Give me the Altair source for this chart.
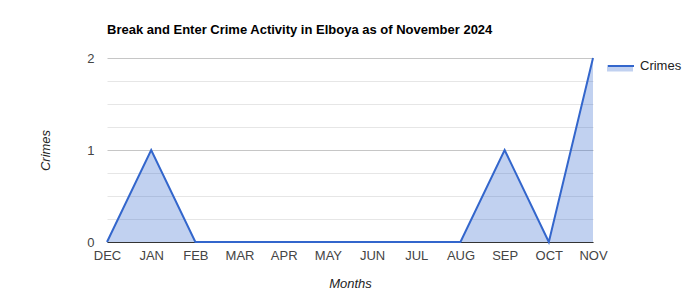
import altair as alt
import pandas as pd

months = ["DEC", "JAN", "FEB", "MAR", "APR", "MAY", "JUN", "JUL", "AUG", "SEP", "OCT", "NOV"]
crimes = [0, 1, 0, 0, 0, 0, 0, 0, 0, 1, 0, 2]
series_name = "Crimes"
y_ticks = [0, 0.25, 0.5, 0.75, 1, 1.25, 1.5, 1.75, 2]

df = pd.DataFrame({"Month": months, "Crimes": crimes})

FONT = "Liberation Sans"
BLUE = "#3366cc"

x_enc = alt.X(
    "Month:N",
    sort=months,
    scale=alt.Scale(type="point", padding=0),
    axis=alt.Axis(
        title="Months",
        titleFont=FONT, titleFontSize=13, titleFontStyle="italic", titleFontWeight="normal",
        titleColor="#222222", titleY=45, titleBaseline="alphabetic",
        labelFont=FONT, labelFontSize=13, labelColor="#444444", labelAngle=0,
        labelPadding=7, ticks=False, domain=True, domainColor="#333333", domainWidth=1,
        grid=False,
    ),
)
y_enc = alt.Y(
    "Crimes:Q",
    scale=alt.Scale(domain=[0, 2], nice=False),
    axis=alt.Axis(
        title="Crimes",
        values=y_ticks,
        tickCount=len(y_ticks),
        labelExpr="datum.value % 1 === 0 ? format(datum.value, 'd') : ''",
        titleFont=FONT, titleFontSize=13, titleFontStyle="italic", titleFontWeight="normal",
        titleColor="#222222", titleX=-62, titleY=92, titleAngle=-90, titleBaseline="middle",
        titleAlign="center",
        labelFont=FONT, labelFontSize=13, labelColor="#444444", labelPadding=13,
        labelOverlap=False,
        ticks=False, domain=False,
        grid=True,
        gridColor={"condition": {"test": "datum.value % 1 === 0", "value": "#c6c6c6"}, "value": "#e6e6e6"},
        gridWidth=1,
    ),
)

area = alt.Chart(df).mark_area(fillOpacity=0.3, line=False).encode(
    x=x_enc,
    y=y_enc,
    fill=alt.Fill(
        "s:N",
        scale=alt.Scale(domain=[series_name], range=[BLUE]),
        legend=alt.Legend(
            title=None, orient="none", legendX=500, legendY=-6,
            symbolType="M-1,0 H1 V0.5 H-1 Z", symbolSize=676, symbolOpacity=0.3,
            symbolStrokeWidth=0, labelExpr="''", labelFont=FONT, labelFontSize=13,
            labelOffset=5,
        ),
    ),
).transform_calculate(s=f"'{series_name}'")

line = alt.Chart(df).mark_line(color=BLUE, strokeWidth=2).encode(
    x=alt.X("Month:N", sort=months),
    y="Crimes:Q",
    stroke=alt.Stroke(
        "s:N",
        scale=alt.Scale(domain=[series_name], range=[BLUE]),
        legend=alt.Legend(
            title=None, orient="none", legendX=500, legendY=-6,
            symbolType="stroke", symbolSize=676, symbolStrokeWidth=2,
            labelFont=FONT, labelFontSize=13, labelColor="#222222", labelOffset=5,
        ),
    ),
).transform_calculate(s=f"'{series_name}'")

chart = alt.layer(area, line).properties(
    width=486,
    height=184,
    padding={"left": 107, "top": 58, "right": 107, "bottom": 58},
    autosize=alt.AutoSizeParams(type="none"),
    title=alt.TitleParams(
        "Break and Enter Crime Activity in Elboya as of November 2024",
        anchor="start", frame="group", font=FONT, fontSize=13, fontWeight="bold",
        color="#000000", baseline="alphabetic", offset=5,
    ),
).resolve_scale(fill="independent", stroke="independent").configure_view(stroke=None)

chart.save("out.html", embed_options={"renderer": "svg", "actions": False})
